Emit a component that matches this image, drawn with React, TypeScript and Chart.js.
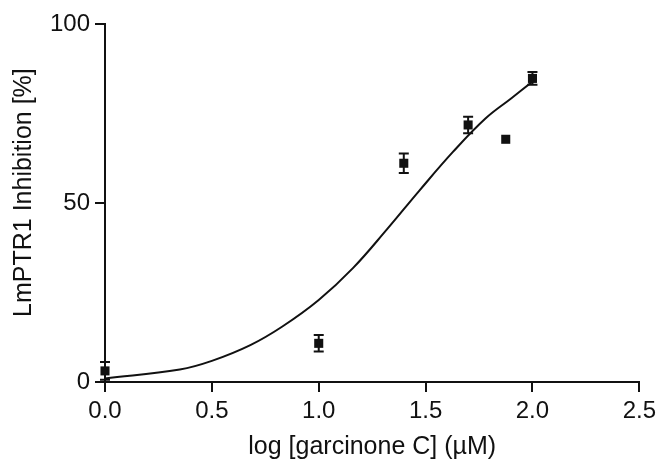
import React, { useEffect, useRef } from "react";
import { Chart, registerables } from "chart.js";

Chart.register(...registerables);

// Measured data: log concentration (µM) vs. % inhibition (mean ± SEM)
const logConc = [0, 1.0, 1.398, 1.699, 1.875, 2.0];
const inhibition = [3.1, 10.8, 61.1, 71.8, 67.8, 84.8];
const sem = [2.5, 2.3, 2.7, 2.3, 0, 1.8];

// Fitted dose-response curve
const curveX = [0, 0.35, 0.5, 0.68, 0.83, 1.0, 1.16, 1.32, 1.47, 1.63, 1.78, 1.9, 2.0];
const curveY = [1.0, 3.5, 5.9, 10.3, 15.5, 22.9, 31.8, 42.7, 53.4, 64.4, 73.6, 79.2, 83.9];

const xTicks = [0, 0.5, 1.0, 1.5, 2.0, 2.5];
const yTicks = [0, 50, 100];

const FONT = "'Liberation Sans', Arial, sans-serif";
const INK = "#111111";

const errorBarPlugin = {
  id: "errorBars",
  afterDatasetsDraw(chart: any) {
    const { ctx, scales } = chart;
    const xs = scales.x;
    const ys = scales.y;
    ctx.save();
    ctx.strokeStyle = INK;
    ctx.lineWidth = 2;
    const cap = 5;
    logConc.forEach((lx, i) => {
      const e = sem[i];
      if (!e) return;
      const px = xs.getPixelForValue(lx);
      const top = ys.getPixelForValue(inhibition[i] + e);
      const bot = ys.getPixelForValue(inhibition[i] - e);
      ctx.beginPath();
      ctx.moveTo(px, top);
      ctx.lineTo(px, bot);
      ctx.moveTo(px - cap, top);
      ctx.lineTo(px + cap, top);
      ctx.moveTo(px - cap, bot);
      ctx.lineTo(px + cap, bot);
      ctx.stroke();
    });
    ctx.restore();
  },
};

export default function App() {
  const ref = useRef<HTMLCanvasElement | null>(null);

  useEffect(() => {
    if (!ref.current) return;
    const chart = new Chart(ref.current, {
      type: "scatter",
      data: {
        datasets: [
          {
            label: "fit",
            data: curveX.map((x, i) => ({ x, y: curveY[i] })),
            showLine: true,
            borderColor: INK,
            borderWidth: 2,
            pointRadius: 0,
            tension: 0.4,
            order: 2,
          } as any,
          {
            label: "data",
            data: logConc.map((x, i) => ({ x, y: inhibition[i] })),
            showLine: false,
            pointStyle: "rect",
            pointRadius: 6.4,
            backgroundColor: INK,
            borderColor: INK,
            borderWidth: 0,
            order: 1,
          } as any,
        ],
      },
      plugins: [errorBarPlugin],
      options: {
        responsive: false,
        animation: false,
        clip: false as any,
        layout: { padding: { left: 0, top: 24, right: 19, bottom: 0 } },
        plugins: {
          legend: { display: false },
          tooltip: { enabled: false },
        },
        scales: {
          x: {
            type: "linear",
            min: 0,
            max: 2.5,
            afterFit(scale: any) {
              scale.height = 85;
            },
            afterBuildTicks(scale: any) {
              scale.ticks = xTicks.map((v) => ({ value: v }));
            },
            ticks: {
              color: INK,
              font: { family: FONT, size: 24 },
              padding: 5,
              callback: (v: any) => Number(v).toFixed(1),
            },
            grid: {
              display: true,
              drawOnChartArea: false,
              drawTicks: true,
              tickLength: 10,
              color: INK,
              lineWidth: 2,
            },
            border: { display: true, color: INK, width: 2 },
            title: {
              display: true,
              text: "log [garcinone C] (µM)",
              color: INK,
              font: { family: FONT, size: 25 },
              padding: { top: 0, bottom: 5 },
            },
          },
          y: {
            type: "linear",
            min: 0,
            max: 100,
            afterFit(scale: any) {
              scale.width = 105;
            },
            afterBuildTicks(scale: any) {
              scale.ticks = yTicks.map((v) => ({ value: v }));
            },
            ticks: {
              color: INK,
              font: { family: FONT, size: 24 },
              padding: 5,
            },
            grid: {
              display: true,
              drawOnChartArea: false,
              drawTicks: true,
              tickLength: 10,
              color: INK,
              lineWidth: 2,
            },
            border: { display: true, color: INK, width: 2 },
            title: {
              display: true,
              text: "   LmPTR1 Inhibition [%]",
              color: INK,
              font: { family: FONT, size: 25 },
              padding: { top: 9, bottom: 0 },
            },
          },
        },
      },
    });
    return () => chart.destroy();
  }, []);

  return (
    <div style={{ position: "absolute", left: 0, top: 0, width: 661, height: 467, background: "#fff" }}>
      <canvas ref={ref} width={661} height={467} style={{ display: "block" }} />
    </div>
  );
}
